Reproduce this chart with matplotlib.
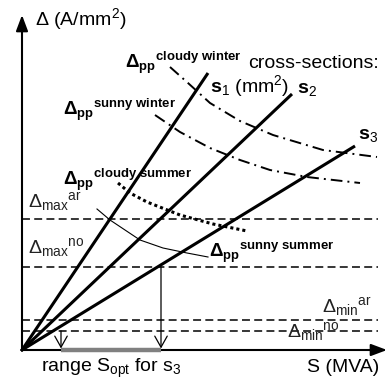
import matplotlib
matplotlib.use("Agg")
import matplotlib.pyplot as plt

plt.rcParams['font.family'] = ['Liberation Sans', 'DejaVu Sans']
plt.rcParams['mathtext.fontset'] = 'custom'
plt.rcParams['mathtext.rm'] = 'Liberation Sans'
plt.rcParams['mathtext.bf'] = 'Liberation Sans:bold'
plt.rcParams['mathtext.it'] = 'Liberation Sans:italic'
plt.rcParams['mathtext.sf'] = 'Liberation Sans'

# ---- data (schematic units: S horizontal, Delta vertical) ----
cross_sections = ['s1', 's2', 's3']
section_end_S = [186, 270, 333]
section_end_D = [277, 256, 204]

limit_names = ['max_ar', 'max_no', 'min_ar', 'min_no']
limit_values = [131, 83, 30, 19]
limit_S_end = 356

cloudy_winter_S = [148, 166, 188, 218, 251, 301, 355]
cloudy_winter_D = [283, 267, 247, 229, 215, 200, 193]
sunny_winter_S = [133, 158, 188, 218, 248, 285, 338]
sunny_winter_D = [235, 218, 202, 190, 180, 173, 167]
cloudy_summer_S = [96, 108, 125, 158, 191, 225]
cloudy_summer_D = [167, 157, 148, 135, 126, 119]
sunny_summer_S = [75, 88, 118, 141, 165, 186]
sunny_summer_D = [141, 130, 110, 102, 97, 93]

range_S_opt = [39, 139]
range_arrow_levels = [19, 83]

S_axis_max = 365
D_axis_max = 335

# ---- figure ----
fig = plt.figure(figsize=(3.89, 3.81), dpi=100)
ax = fig.add_axes([0, 0, 1, 1])
ax.set_xlim(-22, 367)
ax.set_ylim(-31, 350)
ax.axis('off')

# axes with arrows
ax.annotate('', xy=(0, D_axis_max), xytext=(0, -1),
            arrowprops=dict(arrowstyle='-|>,head_length=0.8,head_width=0.3',
                            mutation_scale=12, lw=1.5, color='k',
                            shrinkA=0, shrinkB=0))
ax.annotate('', xy=(S_axis_max, 0), xytext=(-1, 0),
            arrowprops=dict(arrowstyle='-|>,head_length=0.8,head_width=0.3',
                            mutation_scale=12, lw=1.5, color='k',
                            shrinkA=0, shrinkB=0))

# limit lines
for v in limit_values:
    ax.plot([0, limit_S_end], [v, v], color='k', lw=1.1,
            linestyle=(0, (5.2, 2.8)))

# cross-section lines
for sx, sy in zip(section_end_S, section_end_D):
    ax.plot([0, sx], [0, sy], color='k', lw=2.2, solid_capstyle='butt')

# Delta_pp curves
ax.plot(cloudy_winter_S, cloudy_winter_D, color='k', lw=1.4,
        linestyle=(0, (6, 2.6, 1, 2.6)))
ax.plot(sunny_winter_S, sunny_winter_D, color='k', lw=1.4,
        linestyle=(0, (6, 2.6, 1, 2.6)))
ax.plot(cloudy_summer_S, cloudy_summer_D, color='k', lw=2.2,
        linestyle=(0, (1, 1)))
ax.plot(sunny_summer_S, sunny_summer_D, color='k', lw=0.8)

# range arrows and bar
for sx, lv in zip(range_S_opt, range_arrow_levels):
    ax.annotate('', xy=(sx, 1.5), xytext=(sx, lv),
                arrowprops=dict(arrowstyle='->,head_length=0.8,head_width=0.45',
                                mutation_scale=10, lw=0.9, color='k',
                                shrinkA=0, shrinkB=0))
ax.plot(range_S_opt, [0, 0], color='#808080', lw=3.2, solid_capstyle='butt',
        zorder=5)

# ---- texts ----
fs = 14
ax.text(13, 325, 'Δ (A/mm$^2$)', fontsize=fs, va='baseline', ha='left')
ax.text(226, 282, 'cross-sections:', fontsize=fs, va='baseline', ha='left')
ax.text(188, 258, r'$\mathbf{s}_{1}$ (mm$^2$)', fontsize=fs, va='baseline', ha='left')
ax.text(275, 257, r'$\mathbf{s}_{2}$', fontsize=fs, va='baseline', ha='left')
ax.text(336, 211, r'$\mathbf{s}_{3}$', fontsize=fs, va='baseline', ha='left')
ax.text(285, -22, 'S (MVA)', fontsize=fs, va='baseline', ha='left')
ax.text(19, -22, r'range S$_{\rm opt}$ for s$_3$', fontsize=fs, va='baseline', ha='left')

fsd = 13.5
def dpp(txt):
    return r'$\mathbf{\Delta}_{\mathbf{pp}}{}^{\mathbf{' + txt.replace(' ', r'\ ') + '}}$'

ax.text(103, 282, dpp('cloudy winter'), fontsize=fsd, va='baseline', ha='left')
ax.text(41, 235, dpp('sunny winter'), fontsize=fsd, va='baseline', ha='left')
ax.text(41, 165, dpp('cloudy summer'), fontsize=fsd, va='baseline', ha='left')
ax.text(187, 93, dpp('sunny summer'), fontsize=fsd, va='baseline', ha='left')

gray = '#222222'
fsl = 14
ax.text(6, 142, r'$\Delta_{\rm max}{}^{\rm ar}$', fontsize=fsl, va='baseline', ha='left', color=gray)
ax.text(6, 97, r'$\Delta_{\rm max}{}^{\rm no}$', fontsize=fsl, va='baseline', ha='left', color=gray)
ax.text(300, 37, r'$\Delta_{\rm min}{}^{\rm ar}$', fontsize=fsl, va='baseline', ha='left', color=gray)
ax.text(265, 13, r'$\Delta_{\rm min}{}^{\rm no}$', fontsize=fsl, va='baseline', ha='left', color=gray)

fig.savefig('out.png', dpi=100)
